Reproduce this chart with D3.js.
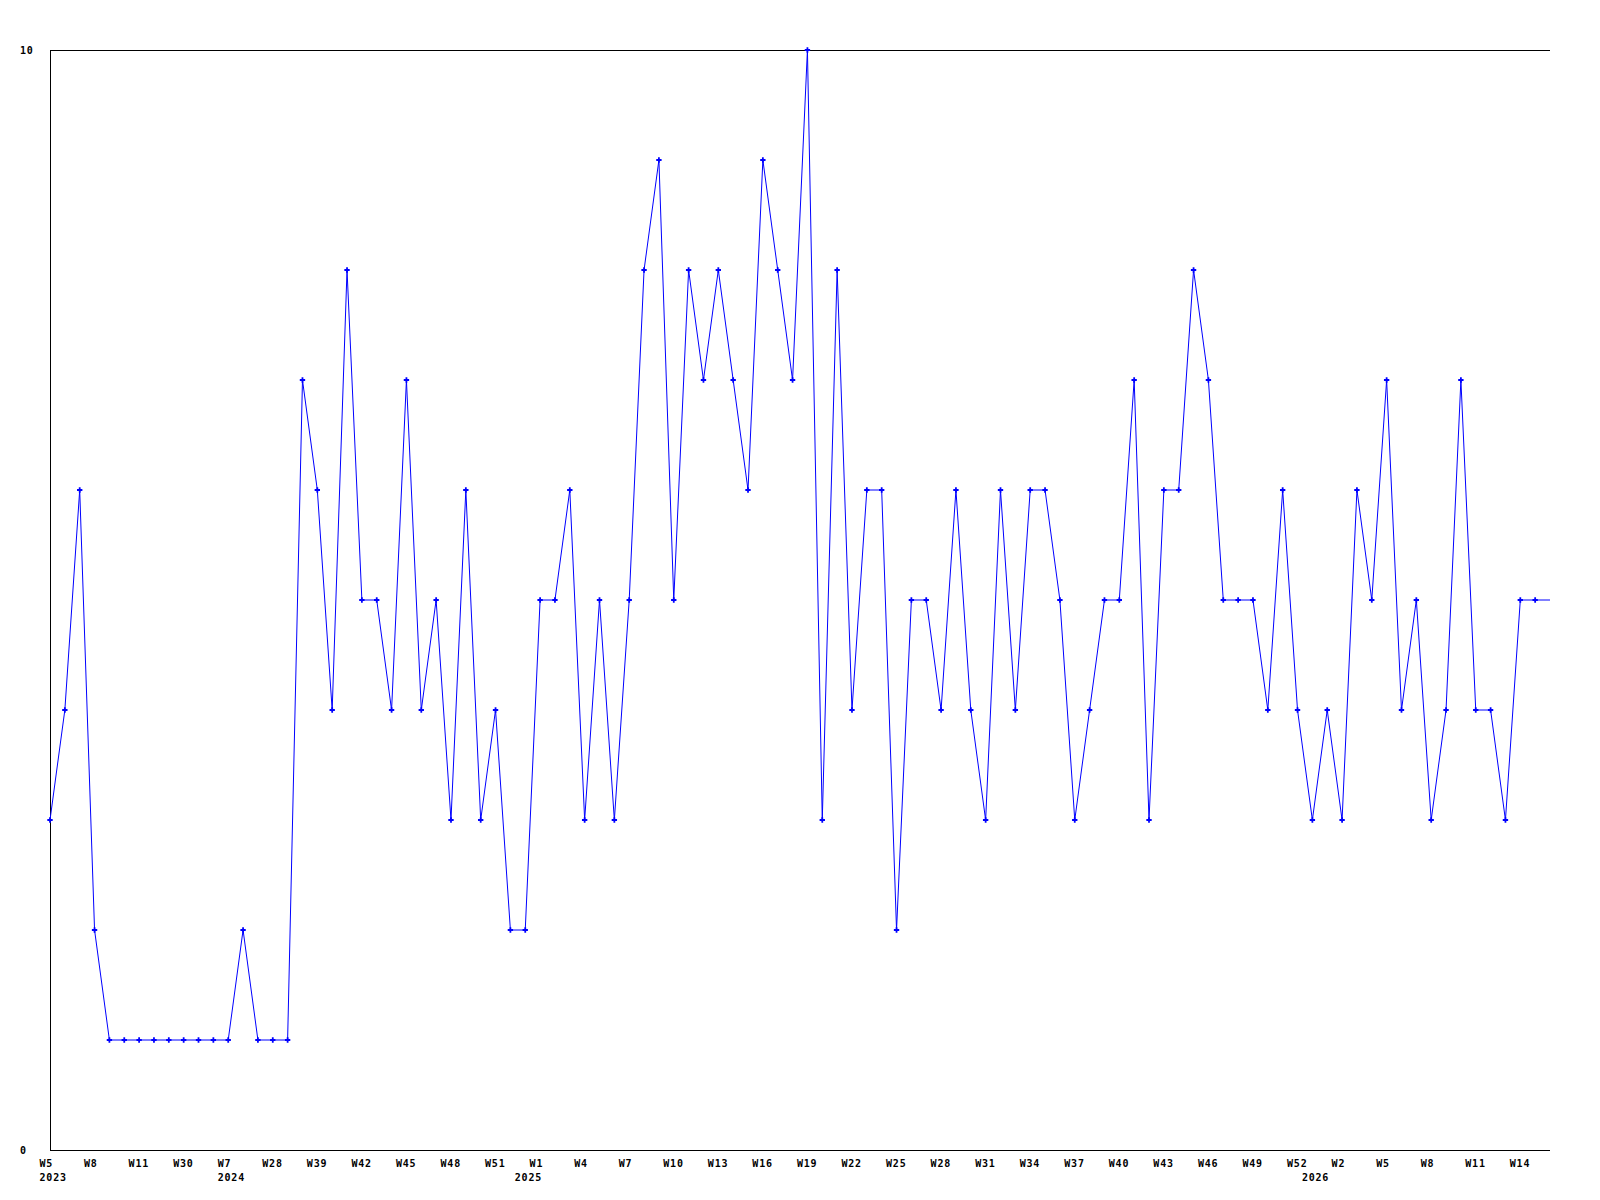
<!DOCTYPE html>
<html>
<head>
<meta charset="utf-8">
<script src="https://cdn.jsdelivr.net/npm/d3@7"></script>
<style>
  html, body { margin: 0; padding: 0; background: #fff; }
  text { font-family: "DejaVu Sans Mono", monospace; font-weight: bold; font-size: 10px; letter-spacing: 0.8px; fill: #000; }
</style>
</head>
<body>
<svg id="chart" width="1600" height="1200"></svg>
<script>
// Week label for each data point (x categories)
const weeks = [
  "W5","W6","W7","W8","W9","W10","W11","W13","W21","W30","W31","W40",
  "W7","W9","W17","W28","W31","W36","W39","W40","W41","W42","W43","W44",
  "W45","W46","W47","W48","W49","W50","W51","W52",
  "W0","W1","W2","W3","W4","W5","W6","W7","W8","W9","W10","W11","W12","W13",
  "W14","W15","W16","W17","W18","W19","W20","W21","W22","W23","W24","W25",
  "W26","W27","W28","W29","W30","W31","W32","W33","W34","W35","W36","W37",
  "W38","W39","W40","W41","W42","W43","W44","W45","W46","W47","W48","W49",
  "W50","W51","W52",
  "W0","W1","W2","W3","W4","W5","W6","W7","W8","W9","W10","W11","W12","W13",
  "W14","W15","W16"
];
// Year label shown at the first point of each year (index into weeks)
const yearLabels = ["2023","2024","2025","2026"];
const yearStarts = [0, 12, 32, 85];
// Series values
const values = [
  3,4,6,2,1,1,1,1,1,1,1,1,1,2,1,1,1,7,6,4,8,5,5,4,7,4,5,3,6,3,4,2,
  2,5,5,6,3,5,3,5,8,9,5,8,7,8,7,6,9,8,7,10,3,8,4,6,6,2,5,5,4,6,4,3,
  6,4,6,6,5,3,4,5,5,7,3,6,6,8,7,5,5,5,4,6,4,3,4,3,6,5,7,4,5,3,4,7,
  4,4,3,5,5,5
];
const yTickValues = [0, 10];

const svg = d3.select("#chart");
const mLeft = 50, mRight = 1550, mTop = 50, mBottom = 1150;

const x = d3.scaleLinear().domain([0, values.length - 1]).range([mLeft, mRight]);
const y = d3.scaleLinear().domain([0, 10]).range([mBottom, mTop]);

// axis frame: left, top, bottom lines
svg.append("line").attr("x1", mLeft + 0.5).attr("x2", mLeft + 0.5).attr("y1", mTop).attr("y2", mBottom)
  .attr("stroke", "#000").attr("stroke-width", 1);
svg.append("line").attr("x1", mLeft).attr("x2", mRight).attr("y1", mTop + 0.5).attr("y2", mTop + 0.5)
  .attr("stroke", "#000").attr("stroke-width", 1);
svg.append("line").attr("x1", mLeft).attr("x2", mRight).attr("y1", mBottom + 0.5).attr("y2", mBottom + 0.5)
  .attr("stroke", "#000").attr("stroke-width", 1);

// y labels
svg.selectAll("text.ylab").data(yTickValues).join("text")
  .attr("class", "ylab")
  .attr("x", 20)
  .attr("y", d => y(d) + 3.5)
  .text(d => d);

// x week labels every 3 points
const tickIdx = d3.range(0, values.length, 3);
svg.selectAll("text.xlab").data(tickIdx).join("text")
  .attr("class", "xlab")
  .attr("x", i => x(i) - 10.5)
  .attr("y", 1167)
  .text(i => weeks[i]);

// year labels
svg.selectAll("text.yr").data(yearStarts).join("text")
  .attr("class", "yr")
  .attr("x", i => x(i) - 10.5)
  .attr("y", 1181)
  .text((i, k) => yearLabels[k]);

// line
const line = d3.line().x((d, i) => x(i)).y(d => y(d));
svg.append("path").datum(values)
  .attr("d", line)
  .attr("fill", "none")
  .attr("stroke", "#0000ff")
  .attr("stroke-width", 1);

// markers (all but the last point at the right edge)
const cross = d3.symbol().type(d3.symbolCross).size(16);
svg.selectAll("path.mk").data(values.slice(0, values.length - 1)).join("path")
  .attr("class", "mk")
  .attr("d", cross)
  .attr("transform", (d, i) => `translate(${x(i)},${y(d)})`)
  .attr("fill", "#0000ff");
</script>
</body>
</html>
